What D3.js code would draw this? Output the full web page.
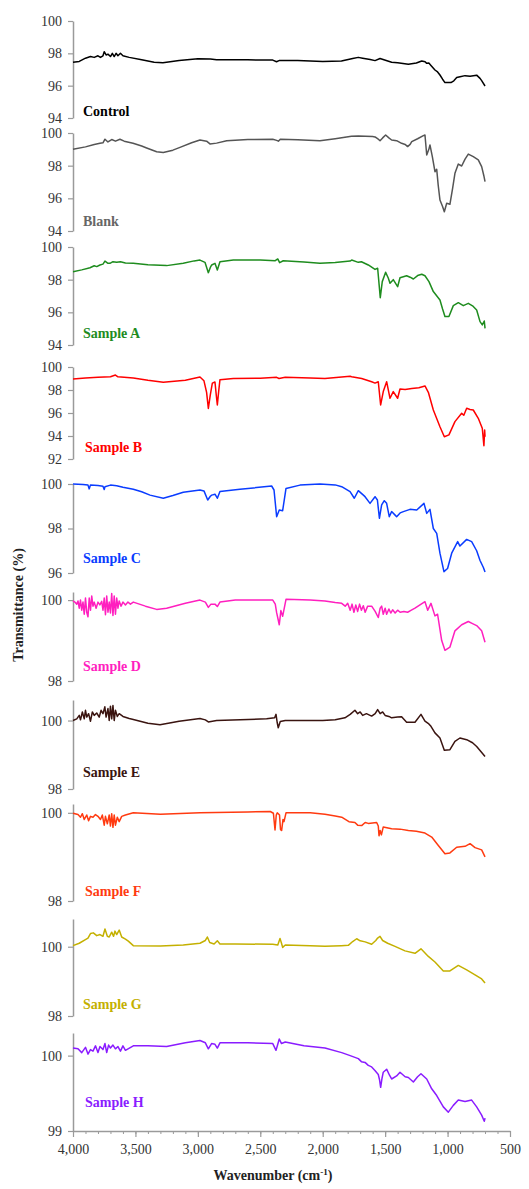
<!DOCTYPE html>
<html>
<head>
<meta charset="utf-8">
<script src="https://cdn.jsdelivr.net/npm/d3@7"></script>
<style>
  body { margin: 0; background: #fff; }
  text { font-family: "Liberation Serif", "Times New Roman", serif; }
</style>
</head>
<body>
<script>
// FTIR spectra, [wavenumber, transmittance]
var control = [[4000,97.45],[3950,97.5],[3900,97.7],[3860,97.8],[3830,97.75],[3800,97.85],[3780,97.75],[3760,97.85],[3750,98.1],[3735,97.9],[3720,97.95],[3700,97.8],[3685,98.0],[3670,97.8],[3655,98.0],[3640,97.85],[3620,98.0],[3600,97.85],[3550,97.75],[3450,97.6],[3350,97.45],[3280,97.42],[3150,97.55],[3000,97.67],[2900,97.65],[2850,97.6],[2600,97.6],[2400,97.58],[2370,97.48],[2350,97.55],[2200,97.55],[2000,97.5],[1850,97.52],[1760,97.68],[1715,97.75],[1680,97.7],[1620,97.62],[1581,97.55],[1541,97.68],[1510,97.6],[1448,97.45],[1400,97.42],[1314,97.32],[1250,97.4],[1207,97.53],[1180,97.48],[1167,97.38],[1150,97.4],[1133,97.25],[1101,96.97],[1080,96.85],[1061,96.66],[1040,96.4],[1021,96.19],[973,96.19],[950,96.3],[927,96.5],[900,96.55],[860,96.62],[820,96.58],[767,96.65],[740,96.45],[727,96.31],[700,95.98]];

var blank = [[4000,99.0],[3900,99.15],[3830,99.3],[3784,99.37],[3760,99.4],[3744,99.62],[3720,99.45],[3690,99.6],[3660,99.5],[3624,99.62],[3590,99.5],[3519,99.37],[3450,99.2],[3410,99.08],[3330,98.85],[3277,98.8],[3200,98.95],[3143,99.12],[3050,99.4],[2983,99.57],[2930,99.5],[2903,99.33],[2850,99.38],[2769,99.53],[2600,99.6],[2400,99.62],[2369,99.55],[2355,99.5],[2340,99.62],[2200,99.58],[2022,99.53],[1900,99.65],[1770,99.8],[1715,99.82],[1600,99.78],[1581,99.76],[1555,99.62],[1541,99.53],[1520,99.7],[1496,99.88],[1470,99.7],[1448,99.57],[1408,99.53],[1368,99.37],[1340,99.3],[1320,99.17],[1300,99.3],[1287,99.47],[1240,99.65],[1194,99.84],[1181,99.88],[1167,98.65],[1150,99.0],[1141,99.27],[1122,98.55],[1101,97.63],[1087,97.78],[1075,96.8],[1061,95.9],[1040,95.5],[1026,95.18],[1007,95.7],[981,95.64],[960,96.6],[941,97.53],[914,98.1],[887,97.98],[860,98.4],[834,98.71],[794,98.55],[754,98.35],[727,97.94],[710,97.4],[700,97.02]];

var sampleA = [[4000,98.49],[3930,98.6],[3864,98.73],[3830,98.85],[3810,98.8],[3784,98.9],[3760,98.95],[3744,99.14],[3720,99.0],[3704,99.0],[3680,99.1],[3650,99.06],[3620,99.1],[3580,99.02],[3517,99.0],[3400,98.92],[3250,98.86],[3117,99.0],[3030,99.15],[2983,99.2],[2943,99.06],[2916,98.43],[2900,98.75],[2889,98.9],[2863,99.0],[2844,98.59],[2823,99.1],[2716,99.2],[2500,99.2],[2380,99.16],[2360,99.27],[2345,99.04],[2316,99.16],[2150,99.08],[2022,99.0],[1900,99.05],[1781,99.14],[1768,99.2],[1715,99.06],[1690,99.1],[1635,98.9],[1581,98.63],[1560,98.7],[1539,96.9],[1523,97.88],[1496,98.45],[1475,98.1],[1461,97.78],[1435,98.0],[1400,97.57],[1381,98.12],[1328,98.24],[1300,98.15],[1274,98.04],[1240,98.25],[1207,98.33],[1181,98.24],[1149,97.88],[1114,97.27],[1061,96.76],[1040,96.2],[1021,95.74],[989,95.74],[954,96.41],[914,96.59],[874,96.41],[834,96.55],[800,96.4],[767,96.14],[740,95.43],[722,95.23],[706,95.47],[700,95.02]];

var sampleB = [[4000,98.96],[3900,99.05],[3800,99.1],[3700,99.15],[3660,99.3],[3640,99.15],[3517,99.05],[3400,98.85],[3277,98.67],[3100,98.85],[2983,99.13],[2951,98.8],[2930,97.8],[2916,96.4],[2900,97.6],[2884,98.6],[2863,98.7],[2852,97.5],[2844,96.7],[2833,97.9],[2823,98.9],[2716,99.0],[2500,99.02],[2369,99.1],[2350,99.0],[2300,99.1],[2100,99.05],[1982,99.0],[1781,99.2],[1768,99.16],[1688,99.0],[1608,98.72],[1581,98.6],[1555,98.72],[1536,96.7],[1515,97.86],[1488,98.72],[1461,97.28],[1435,97.86],[1400,97.28],[1381,98.09],[1340,98.05],[1287,98.14],[1230,98.2],[1181,98.35],[1154,97.8],[1114,96.26],[1061,94.81],[1026,93.94],[989,94.1],[941,95.25],[887,95.97],[870,95.8],[847,96.41],[820,96.3],[794,96.26],[754,95.54],[722,94.67],[709,93.16],[703,94.52],[700,93.94]];

var sampleC = [[4000,100.0],[3920,99.98],[3880,99.95],[3870,99.78],[3860,99.96],[3800,99.93],[3760,99.9],[3750,99.75],[3744,99.88],[3700,99.95],[3650,99.92],[3600,99.85],[3517,99.76],[3450,99.65],[3383,99.5],[3277,99.36],[3200,99.48],[3117,99.63],[2983,99.73],[2951,99.69],[2921,99.28],[2900,99.45],[2889,99.5],[2863,99.54],[2844,99.36],[2823,99.66],[2663,99.76],[2409,99.91],[2390,99.73],[2369,98.53],[2348,98.83],[2321,98.8],[2294,99.8],[2182,99.95],[2022,100.0],[1900,99.96],[1848,99.88],[1781,99.66],[1747,99.36],[1715,99.7],[1661,99.43],[1621,99.13],[1581,99.43],[1562,99.28],[1546,98.46],[1528,99.06],[1507,99.25],[1488,99.13],[1467,98.53],[1448,98.76],[1420,98.6],[1408,98.53],[1380,98.7],[1354,98.76],[1301,98.86],[1247,98.83],[1189,99.13],[1167,98.68],[1141,98.86],[1114,98.0],[1087,97.78],[1061,96.89],[1029,96.06],[1000,96.2],[967,96.89],[919,97.41],[901,97.21],[847,97.51],[807,97.41],[767,97.0],[740,96.56],[714,96.26],[700,96.04]];

var sampleD = [[4000,99.98],[3985,99.95],[3970,99.9],[3960,99.98],[3950,99.8],[3940,100.0],[3930,99.75],[3920,99.95],[3910,99.65],[3900,100.05],[3890,99.7],[3880,99.59],[3870,100.05],[3860,99.75],[3850,100.1],[3840,99.85],[3830,99.95],[3815,99.8],[3800,99.95],[3785,99.88],[3770,99.97],[3760,99.75],[3750,100.05],[3740,99.64],[3730,100.1],[3720,99.7],[3710,99.95],[3700,99.68],[3690,100.16],[3680,99.62],[3670,100.1],[3660,99.65],[3650,100.05],[3640,99.8],[3630,99.98],[3615,99.85],[3600,99.95],[3580,99.88],[3560,99.95],[3540,99.9],[3517,99.95],[3420,99.85],[3330,99.77],[3250,99.8],[3100,99.92],[2983,100.0],[2940,99.95],[2916,99.82],[2895,99.9],[2863,99.9],[2844,99.84],[2823,99.95],[2700,100.0],[2400,100.0],[2380,99.9],[2369,99.69],[2348,99.39],[2335,99.74],[2321,99.6],[2294,100.02],[2100,100.0],[1982,99.98],[1900,99.94],[1848,99.92],[1820,99.85],[1800,99.92],[1780,99.75],[1765,99.9],[1750,99.7],[1735,99.88],[1720,99.72],[1705,99.9],[1690,99.75],[1675,99.86],[1660,99.7],[1640,99.85],[1608,99.85],[1580,99.72],[1555,99.57],[1540,99.8],[1528,99.85],[1515,99.65],[1500,99.8],[1488,99.65],[1470,99.78],[1455,99.68],[1440,99.76],[1420,99.68],[1400,99.75],[1380,99.7],[1350,99.72],[1320,99.7],[1290,99.75],[1261,99.8],[1181,99.96],[1159,99.75],[1133,99.92],[1101,99.61],[1080,99.65],[1047,99.0],[1021,98.76],[981,98.84],[941,99.24],[887,99.39],[834,99.47],[800,99.42],[767,99.37],[727,99.24],[700,98.96]];

var sampleE = [[4000,100.0],[3970,100.05],[3950,100.15],[3940,100.02],[3925,100.25],[3910,100.05],[3900,100.3],[3890,100.1],[3875,100.2],[3860,99.98],[3845,100.25],[3830,100.15],[3810,100.22],[3790,100.1],[3775,100.3],[3760,100.2],[3745,100.4],[3735,100.1],[3720,100.35],[3710,100.0],[3700,100.42],[3690,100.05],[3680,100.44],[3670,100.0],[3660,100.3],[3645,100.12],[3630,100.2],[3600,100.12],[3550,100.06],[3517,100.03],[3400,99.92],[3303,99.88],[3150,99.98],[2983,100.06],[2940,100.02],[2916,99.96],[2850,100.0],[2449,100.05],[2385,100.08],[2374,100.18],[2365,99.95],[2356,99.79],[2340,99.97],[2300,100.0],[2000,100.0],[1900,100.02],[1822,100.08],[1780,100.18],[1742,100.3],[1720,100.2],[1700,100.25],[1680,100.15],[1650,100.2],[1608,100.13],[1580,100.2],[1560,100.32],[1540,100.2],[1520,100.25],[1500,100.15],[1470,100.12],[1448,100.08],[1400,100.1],[1368,100.11],[1328,99.95],[1261,99.95],[1213,100.18],[1181,99.98],[1150,99.9],[1133,99.83],[1101,99.64],[1061,99.49],[1026,99.13],[981,99.15],[941,99.39],[901,99.49],[847,99.44],[800,99.35],[767,99.24],[730,99.08],[700,98.95]];

var sampleF = [[4000,99.99],[3960,99.96],[3940,99.9],[3925,99.98],[3910,99.85],[3890,99.95],[3875,99.82],[3860,99.92],[3840,99.9],[3820,99.96],[3800,99.92],[3780,99.85],[3765,99.95],[3750,99.72],[3740,99.92],[3725,99.75],[3710,99.95],[3700,99.7],[3690,99.98],[3680,99.67],[3670,99.95],[3660,99.72],[3645,99.9],[3630,99.8],[3610,99.92],[3580,99.95],[3517,100.0],[3300,99.97],[2983,100.0],[2600,100.02],[2420,100.03],[2395,99.99],[2382,99.61],[2372,99.95],[2364,100.0],[2346,99.95],[2338,99.62],[2329,99.6],[2318,99.85],[2310,99.8],[2294,100.0],[2100,100.0],[1982,99.97],[1900,99.93],[1848,99.9],[1790,99.8],[1742,99.78],[1720,99.72],[1688,99.71],[1660,99.78],[1635,99.76],[1568,99.78],[1555,99.7],[1549,99.48],[1540,99.6],[1530,99.5],[1515,99.68],[1448,99.64],[1380,99.63],[1314,99.6],[1250,99.58],[1181,99.54],[1127,99.45],[1074,99.26],[1021,99.07],[981,99.09],[927,99.22],[860,99.24],[820,99.3],[780,99.21],[727,99.16],[700,99.0]];

var sampleG = [[4000,100.03],[3950,100.1],[3904,100.2],[3880,100.25],[3860,100.38],[3837,100.4],[3810,100.32],[3784,100.35],[3760,100.3],[3744,100.51],[3725,100.3],[3710,100.28],[3690,100.42],[3675,100.3],[3664,100.45],[3650,100.35],[3630,100.48],[3610,100.28],[3580,100.22],[3557,100.16],[3517,100.03],[3300,100.02],[3117,100.05],[2983,100.1],[2940,100.18],[2924,100.28],[2905,100.12],[2870,100.08],[2844,100.17],[2823,100.08],[2700,100.08],[2400,100.07],[2360,100.05],[2342,100.24],[2330,100.1],[2321,99.98],[2300,100.05],[2100,100.03],[1982,100.01],[1850,100.03],[1795,100.04],[1760,100.15],[1728,100.23],[1700,100.17],[1660,100.14],[1608,100.07],[1575,100.18],[1560,100.25],[1541,100.3],[1520,100.18],[1480,100.1],[1421,100.01],[1341,99.88],[1261,99.81],[1213,99.94],[1154,99.72],[1101,99.56],[1034,99.3],[981,99.3],[914,99.46],[847,99.33],[780,99.19],[727,99.07],[700,98.95]];

var sampleH = [[4000,100.1],[3960,100.09],[3930,100.04],[3900,100.11],[3880,100.02],[3860,100.08],[3840,100.06],[3820,100.13],[3800,100.04],[3784,100.12],[3760,100.08],[3744,100.16],[3730,100.04],[3715,100.14],[3700,100.1],[3680,100.14],[3660,100.09],[3640,100.12],[3620,100.06],[3600,100.13],[3580,100.07],[3517,100.13],[3400,100.13],[3250,100.12],[3100,100.17],[2983,100.2],[2940,100.17],[2916,100.09],[2890,100.16],[2863,100.15],[2844,100.1],[2823,100.17],[2600,100.17],[2400,100.16],[2374,100.07],[2360,100.15],[2348,100.22],[2330,100.16],[2300,100.18],[2150,100.13],[1982,100.1],[1848,100.04],[1780,100.0],[1715,99.96],[1690,99.92],[1661,99.91],[1635,99.87],[1608,99.85],[1580,99.8],[1555,99.75],[1545,99.68],[1536,99.58],[1525,99.7],[1515,99.78],[1488,99.82],[1465,99.74],[1448,99.69],[1408,99.73],[1381,99.78],[1340,99.72],[1314,99.71],[1274,99.65],[1240,99.72],[1213,99.76],[1167,99.69],[1127,99.56],[1087,99.47],[1034,99.32],[994,99.25],[954,99.34],[914,99.41],[860,99.39],[807,99.41],[767,99.32],[727,99.21],[706,99.13],[700,99.17]];

var names = ["Control", "Blank", "Sample A", "Sample B", "Sample C", "Sample D", "Sample E", "Sample F", "Sample G", "Sample H"];
var series = [control, blank, sampleA, sampleB, sampleC, sampleD, sampleE, sampleF, sampleG, sampleH];
var yDomains = [[94,100],[94,100],[94,100],[92,100],[96,100],[98,100.2],[98,100.6],[98,100.2],[98,100.8],[99,100.3]];
var yTicks = [[94,96,98,100],[94,96,98,100],[94,96,98,100],[92,94,96,98,100],[96,98,100],[98,100],[98,100],[98,100],[98,100],[99,100]];
var xTicks = [4000, 3500, 3000, 2500, 2000, 1500, 1000, 500];

// layout
var colors = ["#000000", "#555555", "#1e8c1e", "#ff0000", "#0a3cff", "#ff1fbf", "#3a1410", "#ff3a10", "#c4b000", "#8a1cff"];
var labelColors = ["#000000", "#666666", "#1e8c1e", "#ff0000", "#0a3cff", "#ff1fbf", "#3a1410", "#ff3a10", "#c4b000", "#8a1cff"];
var panelTop = [21, 133, 247, 367, 484, 592, 700, 804, 919, 1033];
var panelBottom = [118, 231, 345, 459, 573, 681, 789, 901, 1016, 1131];
var labelY = [116, 226, 338, 452, 563, 671, 777, 896, 1009, 1107];
var labelX = [83, 83, 83, 85, 83, 83, 83, 85, 83, 85];

var width = 529, height = 1189;
var left = 73, right = 510;

var svg = d3.select("body").append("svg")
    .attr("width", width)
    .attr("height", height);

var xScale = d3.scaleLinear().domain([4000, 500]).range([left, right]);

series.forEach(function(d, i) {
    var yScale = d3.scaleLinear().domain(yDomains[i]).range([panelBottom[i], panelTop[i]]);

    var yAxis = d3.axisLeft(yScale).tickValues(yTicks[i]).tickSize(5).tickSizeOuter(0)
        .tickPadding(6).tickFormat(d3.format("d"));
    var g = svg.append("g")
       .attr("transform", "translate(" + left + ",0)")
       .call(yAxis);
    g.select(".domain").attr("stroke", "#9a9a9a").attr("stroke-width", 1.5);
    g.selectAll(".tick line").attr("stroke", "#9a9a9a").attr("stroke-width", 1.2);
    g.selectAll(".tick text").attr("fill", "#333").style("font-size", "14px")
       .style("font-family", "'Liberation Serif', serif");

    var line = d3.line()
        .x(function(p) { return xScale(p[0]); })
        .y(function(p) { return yScale(p[1]); });
    svg.append("path")
       .datum(d)
       .attr("d", line)
       .attr("fill", "none")
       .attr("stroke", colors[i])
       .attr("stroke-width", 1.5)
       .attr("stroke-linejoin", "round");

    svg.append("text")
       .attr("x", labelX[i])
       .attr("y", labelY[i])
       .attr("fill", labelColors[i])
       .style("font-size", "14px")
       .style("font-weight", "bold")
       .text(names[i]);
});

// bottom axis, minor ticks every 100
var axisY = panelBottom[panelBottom.length - 1];
var minor = svg.append("g")
   .attr("transform", "translate(0," + axisY + ")")
   .call(d3.axisBottom(xScale).tickValues(d3.range(500, 4001, 100)).tickSize(3).tickFormat(""));
minor.select(".domain").remove();
minor.selectAll(".tick line").attr("stroke", "#9a9a9a");

var xAxis = d3.axisBottom(xScale).tickValues(xTicks).tickSize(6).tickSizeOuter(0)
    .tickPadding(7).tickFormat(d3.format(","));
var gx = svg.append("g")
   .attr("transform", "translate(0," + axisY + ")")
   .call(xAxis);
gx.select(".domain").attr("stroke", "#9a9a9a").attr("stroke-width", 1.5);
gx.selectAll(".tick line").attr("stroke", "#9a9a9a").attr("stroke-width", 1.2);
gx.selectAll(".tick text").attr("fill", "#333").style("font-size", "14px")
   .style("font-family", "'Liberation Serif', serif");

// axis titles
var xt = svg.append("text")
   .attr("x", 273)
   .attr("y", 1180)
   .style("text-anchor", "middle")
   .style("font-size", "14px")
   .style("font-weight", "bold")
   .attr("fill", "#222");
xt.append("tspan").text("Wavenumber (cm");
xt.append("tspan").attr("baseline-shift", "super").style("font-size", "9px").text("-1");
xt.append("tspan").text(")");

svg.append("text")
   .attr("transform", "translate(23,605) rotate(-90)")
   .style("text-anchor", "middle")
   .style("font-size", "14px")
   .style("font-weight", "bold")
   .attr("fill", "#222")
   .text("Transmittance (%)");
</script>
</body>
</html>
